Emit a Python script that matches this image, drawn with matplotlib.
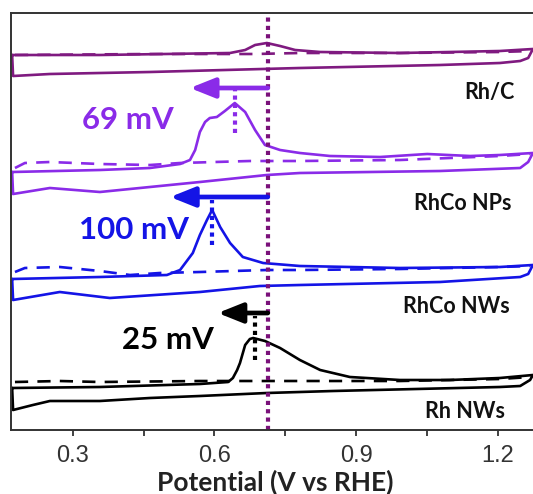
import matplotlib
matplotlib.use("Agg")
import matplotlib.pyplot as plt
import numpy as np

# ---------------- data (potential in V vs RHE, current in a.u.) ----------------
# Rh/C
rhc_an_v = [0.171, 0.357, 0.633, 0.665, 0.686, 0.711, 0.739, 0.771, 0.824, 0.993, 1.205, 1.275]
rhc_an_i = [375, 375, 377, 380, 385, 387, 384, 380, 378, 377, 379, 381]
rhc_ca_v = [1.275, 1.265, 1.248, 1.205, 1.078, 0.781, 0.463, 0.251, 0.173, 0.171]
rhc_ca_i = [381, 372, 369, 367, 365, 362, 358, 356, 354, 375]
rhc_da_v = [0.177, 0.463, 0.686, 0.781, 0.993, 1.205, 1.270]
rhc_da_i = [375, 376, 376, 377, 377, 378, 379]

# RhCo NPs
np_an_v = [0.171, 0.357, 0.463, 0.527, 0.548, 0.559, 0.569, 0.580, 0.590, 0.605, 0.622, 0.643,
           0.665, 0.686, 0.707, 0.739, 0.781, 0.845, 0.951, 1.051, 1.142, 1.205, 1.275]
np_an_i = [258, 260, 262, 266, 270, 280, 298, 308, 312, 313, 319, 327,
           318, 300, 285, 280, 277, 274, 273, 276, 274, 275, 277]
np_ca_v = [1.275, 1.265, 1.248, 1.078, 0.781, 0.711, 0.569, 0.357, 0.251, 0.173, 0.171]
np_ca_i = [277, 268, 262, 259, 257, 255, 248, 238, 242, 236, 258]
np_da_v = [0.177, 0.198, 0.251, 0.357, 0.463, 0.527, 0.675, 0.781, 0.993, 1.205, 1.269]
np_da_i = [262, 267, 268, 266, 265, 267, 269, 269, 270, 274, 276]

# RhCo NWs
nw_an_v = [0.171, 0.357, 0.499, 0.527, 0.554, 0.569, 0.584, 0.595, 0.612, 0.633, 0.660, 0.703,
           0.781, 0.993, 1.205, 1.275]
nw_an_i = [151, 153, 155, 160, 177, 195, 210, 220, 203, 187, 173, 167, 164, 162, 163, 165]
nw_ca_v = [1.275, 1.265, 1.248, 1.078, 0.781, 0.696, 0.569, 0.378, 0.272, 0.173, 0.171]
nw_ca_i = [165, 156, 153, 148, 145, 144, 138, 132, 138, 130, 151]
nw_da_v = [0.177, 0.198, 0.272, 0.357, 0.421, 0.484, 0.569, 0.711, 0.781, 0.993, 1.205, 1.269]
nw_da_i = [158, 162, 163, 159, 155, 157, 158, 160, 160, 161, 163, 164]

# Rh NWs
rh_an_v = [0.171, 0.357, 0.569, 0.629, 0.639, 0.648, 0.654, 0.665, 0.675, 0.682, 0.707, 0.739,
           0.781, 0.824, 0.887, 0.993, 1.099, 1.205, 1.275]
rh_an_i = [42, 43, 46, 48, 52, 60, 67, 85, 91, 92, 89, 82, 70, 60, 53, 50, 50, 52, 55]
rh_ca_v = [1.275, 1.269, 1.248, 1.205, 0.851, 0.711, 0.569, 0.463, 0.357, 0.251, 0.215, 0.173, 0.171]
rh_ca_i = [55, 50, 44, 43, 39, 37, 34, 32, 29, 29, 25, 20, 42]
rh_da_v = [0.177, 0.272, 0.357, 0.569, 0.781, 0.993, 1.205, 1.269]
rh_da_i = [48, 49, 48, 49, 49, 49, 51, 53]

labels = ["Rh/C", "RhCo NPs", "RhCo NWs", "Rh NWs"]
shift_labels = ["69 mV", "100 mV", "25 mV"]
ref_potential = 0.713
peak_potentials = [0.643, 0.595, 0.686]
xticks_major = [0.3, 0.6, 0.9, 1.2]
xticks_minor = [0.45, 0.75, 1.05]

# ---------------- styling ----------------
c_rhc = "#7f1a80"
c_np = "#8a2be8"
c_nw = "#1414e6"
c_rh = "#000000"
c_ref = "#7a117a"

W, H = 533, 494
fig = plt.figure(figsize=(W / 100, H / 100), dpi=100)
ax = fig.add_axes([11 / W, (H - 430) / H, (540 - 11) / W, (430 - 13) / H])
ax.set_xlim(0.1686, 0.3 + (540 - 73) / 471.7)
ax.set_ylim(0, 417)

lw = 1.9
dash = (0, (5, 3.5))
series = [
    (rhc_an_v, rhc_an_i, rhc_ca_v, rhc_ca_i, rhc_da_v, rhc_da_i, c_rhc),
    (np_an_v, np_an_i, np_ca_v, np_ca_i, np_da_v, np_da_i, c_np),
    (nw_an_v, nw_an_i, nw_ca_v, nw_ca_i, nw_da_v, nw_da_i, c_nw),
    (rh_an_v, rh_an_i, rh_ca_v, rh_ca_i, rh_da_v, rh_da_i, c_rh),
]
for av, ai, cv, ci, dv, di, col in series:
    ax.plot(list(av) + list(cv), list(ai) + list(ci), color=col, lw=lw,
            solid_joinstyle="round", solid_capstyle="round")
    ax.plot(dv, di, color=col, lw=lw, linestyle=dash)

# reference dotted line
ax.axvline(ref_potential, color=c_ref, lw=3.0, linestyle=(0, (1, 1)))

# arrows + short dotted lines + labels
arrow_y = [342, 233, 117]
dot_top = [340, 230, 114]
dot_bot = [297, 185, 70]
arrow_cols = [c_np, c_nw, c_rh]
arrow_tips = [0.548, 0.506, 0.607]
label_pos = [(0.417, 310), (0.429, 200), (0.501, 90)]
for k in range(3):
    ax.annotate("", xy=(arrow_tips[k], arrow_y[k]), xytext=(ref_potential, arrow_y[k]),
                arrowprops=dict(arrowstyle="-|>,head_length=1.5,head_width=0.6",
                                color=arrow_cols[k], lw=3.4, shrinkA=0, shrinkB=0))
    ax.plot([peak_potentials[k], peak_potentials[k]], [dot_bot[k], dot_top[k]],
            color=arrow_cols[k], lw=3.0, linestyle=(0, (1, 1)))
    ax.text(label_pos[k][0], label_pos[k][1], shift_labels[k], color=arrow_cols[k],
            fontsize=22.5, fontweight="bold", family="Lato", ha="center", va="center")

name_pos = [(1.236, 338), (1.230, 227), (1.226, 124), (1.216, 19)]
for lab, (xx, yy) in zip(labels, name_pos):
    ax.text(xx, yy, lab, fontsize=15.5, fontweight="bold", family="Lato",
            ha="right", va="center", color="#111111")

# axes
ax.set_yticks([])
ax.set_xticks(xticks_major)
ax.set_xticks(xticks_minor, minor=True)
ax.set_xticklabels([f"{t:.1f}" for t in xticks_major], family="Liberation Sans", fontsize=17,
                   color="#333333")
ax.tick_params(axis="x", which="both", direction="out", length=4, width=1.3, pad=7,
               color="#333333")
ax.spines["right"].set_visible(False)
for s in ax.spines.values():
    s.set_linewidth(1.4)
    s.set_color("#333333")
ax.set_xlabel("Potential (V vs RHE)", fontsize=19, fontweight="bold", family="Lato",
              labelpad=2, color="#222222")

fig.savefig("out.png", dpi=100)
